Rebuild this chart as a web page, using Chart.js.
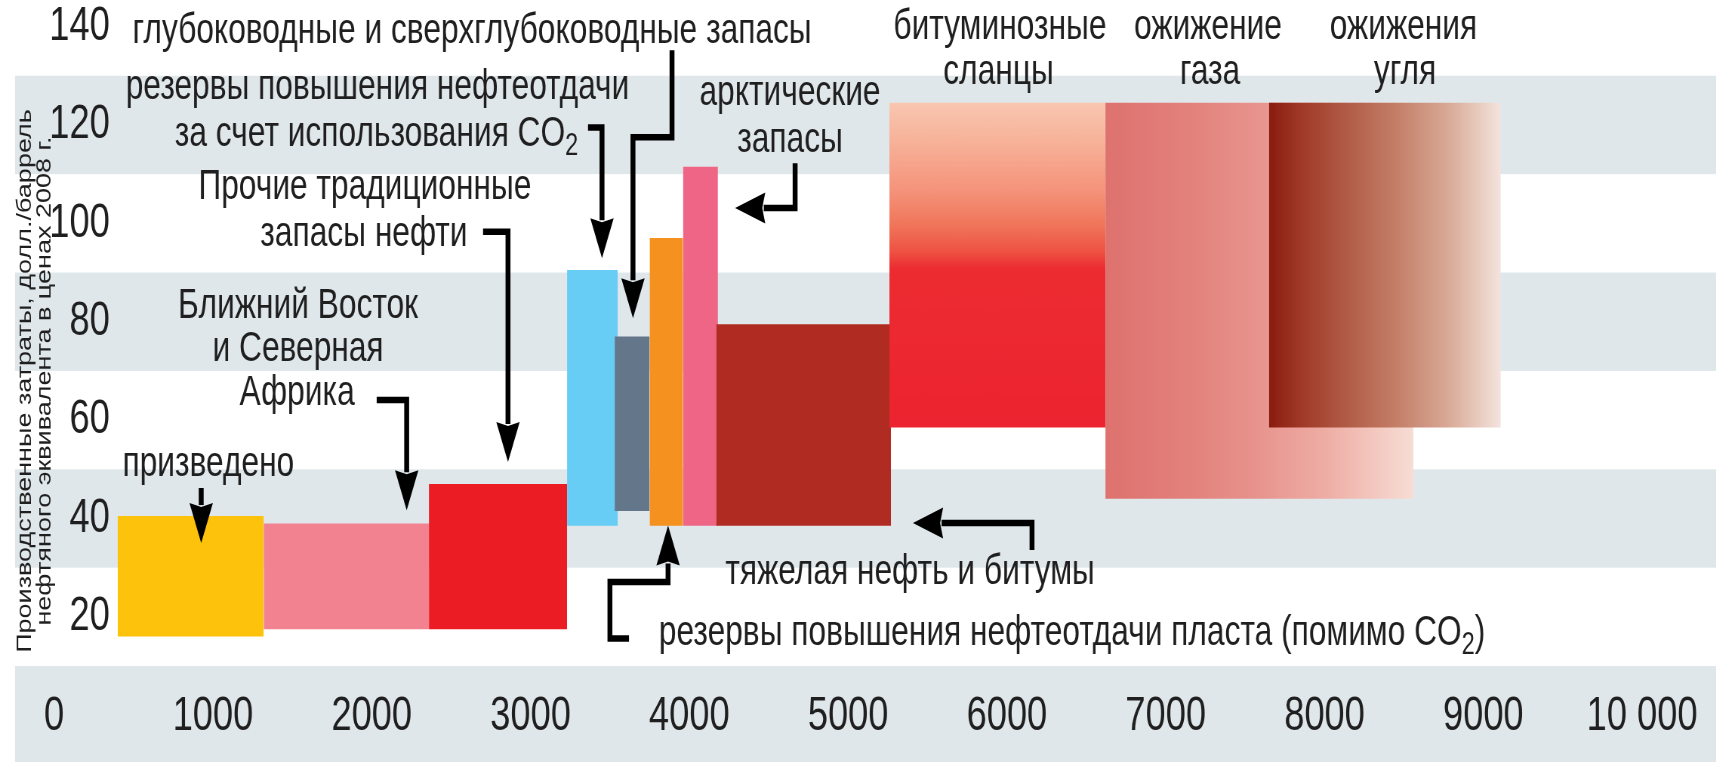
<!DOCTYPE html>
<html lang="ru">
<head>
<meta charset="utf-8">
<title>Производственные затраты на нефть</title>
<script src="https://cdn.jsdelivr.net/npm/chart.js@4.4.1/dist/chart.umd.min.js"></script>
<style>
  html, body { margin: 0; padding: 0; background: #fff; overflow: hidden; }
  #stage { position: absolute; left: 0; top: 0; transform-origin: 0 0; }
  #stage canvas { display: block; }
</style>
</head>
<body>
<div id="stage"><canvas id="chart"></canvas></div>
<script>
// Supply blocks: cumulative volume (x) against production cost (y)
const categories = [
  'призведено',
  'Ближний Восток и Северная Африка',
  'Прочие традиционные запасы нефти',
  'резервы повышения нефтеотдачи за счет использования CO₂',
  'глубоководные и сверхглубоководные запасы',
  'резервы повышения нефтеотдачи пласта (помимо CO₂)',
  'арктические запасы',
  'тяжелая нефть и битумы',
  'битуминозные сланцы',
  'ожижение газа',
  'ожижения угля'
];
const volumeFrom = [400, 1320, 2360, 3230, 3530, 3750, 3960, 4170, 5260, 6620, 7650];
const volumeTo   = [1320, 2360, 3230, 3550, 3750, 3960, 4180, 5270, 6620, 8560, 9110];
const costLow    = [16, 17.5, 17.5, 38.5, 41.5, 38.5, 38.5, 38.5, 58.5, 44, 58.5];
const costHigh   = [40.5, 39, 47, 90.5, 77, 97, 111.5, 79.5, 124.5, 124.5, 124.5];

const xTickValues = [0, 1000, 2000, 3000, 4000, 5000, 6000, 7000, 8000, 9000, 10000];
const xTickLabels = ['0', '1000', '2000', '3000', '4000', '5000', '6000', '7000', '8000', '9000', '10 000'];
const yTickValues = [20, 40, 60, 80, 100, 120, 140];
const shadedBands = [[-10, 10], [30, 50], [70, 90], [110, 130]];

// Fill styles
const solidFill = ['#fcc20c', '#f2828f', '#ec1c24', '#67cdf4', '#64768a', '#f5911f', '#ef6586', '#b02b21', null, null, null];
const gradientFill = {
  8:  { dir: 'v', stops: [[0, '#f9c6b0'], [0.12, '#f7b299'], [0.27, '#f4937a'], [0.38, '#f07459'], [0.46, '#ee5143'], [0.51, '#ec2c31'], [1, '#ec2330']] },
  9:  { dir: 'h', stops: [[0, '#de726e'], [0.3, '#e3837e'], [0.5, '#e8948e'], [0.72, '#eeaea5'], [1, '#f7ddd5']] },
  10: { dir: 'h', stops: [[0, '#8a1b0f'], [0.14, '#a03a27'], [0.35, '#b25e48'], [0.57, '#c6826c'], [0.78, '#d9ab98'], [1, '#f4e4dd']] }
};

// Text and pointer annotations (data coordinates); "₂" is set as a lowered subscript
const captions = [
  { text: 'глубоководные и сверхглубоководные запасы', x: 2632, y: 139.1 },
  { text: 'резервы повышения нефтеотдачи', x: 2036, y: 127.6 },
  { text: 'за счет использования CO₂', x: 2030, y: 118.0 },
  { text: 'Прочие традиционные', x: 1957, y: 107.2 },
  { text: 'запасы нефти', x: 1951, y: 97.8 },
  { text: 'Ближний Восток', x: 1536, y: 83.2 },
  { text: 'и Северная', x: 1536, y: 74.3 },
  { text: 'Африка', x: 1530, y: 65.4 },
  { text: 'призведено', x: 971, y: 50.9 },
  { text: 'арктические', x: 4634, y: 126.5 },
  { text: 'запасы', x: 4634, y: 116.9 },
  { text: 'битуминозные', x: 5956, y: 139.9 },
  { text: 'сланцы', x: 5947, y: 130.7 },
  { text: 'ожижение', x: 7266, y: 139.9 },
  { text: 'газа', x: 7279, y: 130.7 },
  { text: 'ожижения', x: 8497, y: 139.9 },
  { text: 'угля', x: 8507, y: 130.7 },
  { text: 'тяжелая нефть и битумы', x: 5390, y: 29.1 },
  { text: 'резервы повышения нефтеотдачи пласта (помимо CO₂)', x: 6410, y: 16.7 }
];
const pointers = [
  [[926, 46.2], [926, 35.0]],
  [[2031, 64.1], [2220, 64.1], [2220, 41.7]],
  [[2701, 98.3], [2858, 98.3], [2858, 51.5]],
  [[3362, 119.5], [3450, 119.5], [3450, 92.9]],
  [[3891, 135.2], [3891, 117.5], [3645, 117.5], [3645, 80.7]],
  [[4666, 112.2], [4666, 103.1], [4288, 103.1]],
  [[6158, 33.6], [6158, 39.1], [5408, 39.1]],
  [[3620, 15.6], [3500, 15.6], [3500, 27.1], [3866, 27.1], [3866, 38.6]]
];

// Page geometry: the figure uses a narrow lettering, so the canvas is drawn wide and squeezed
const SQUEEZE = 0.755;
const VIEW_W = 1716, VIEW_H = 762;
const CANVAS_W = Math.round(VIEW_W / SQUEEZE);
const AXIS_LEFT = 15 / SQUEEZE;
const Y_AXIS_WIDTH = (112 - 15) / SQUEEZE;
const INK = '#1f1f1f';
const FONT = '"Liberation Sans", Arial, Helvetica, sans-serif';
const NOTE_FONT = '42px ' + FONT;
const SUB_FONT = '31px ' + FONT;

const stage = document.getElementById('stage');
const canvas = document.getElementById('chart');
stage.style.width = CANVAS_W + 'px';
stage.style.height = VIEW_H + 'px';
stage.style.transform = 'scaleX(' + SQUEEZE + ')';
canvas.width = CANVAS_W;
canvas.height = VIEW_H;
canvas.style.width = CANVAS_W + 'px';
canvas.style.height = VIEW_H + 'px';

Chart.defaults.font.family = FONT;
Chart.defaults.color = INK;

function fillFor(i) {
  const g = gradientFill[i];
  if (!g) return solidFill[i];
  return (ctx) => {
    const chart = ctx.chart;
    if (!chart.chartArea) return g.stops[0][1];
    const xs = chart.scales.x, ys = chart.scales.y;
    const grad = g.dir === 'v'
      ? chart.ctx.createLinearGradient(0, ys.getPixelForValue(costHigh[i]), 0, ys.getPixelForValue(costLow[i]))
      : chart.ctx.createLinearGradient(xs.getPixelForValue(volumeFrom[i]), 0, xs.getPixelForValue(volumeTo[i]), 0);
    g.stops.forEach(([o, c]) => grad.addColorStop(o, c));
    return grad;
  };
}

const datasets = categories.map((name, i) => ({
  label: name,
  data: [{ x: volumeFrom[i], y: costHigh[i] }, { x: volumeTo[i], y: costHigh[i] }],
  fill: { value: costLow[i] },
  backgroundColor: fillFor(i),
  borderColor: 'rgba(0,0,0,0)',
  borderWidth: 0,
  pointRadius: 0,
  pointHoverRadius: 0,
  tension: 0,
  order: -i
}));

const bandPlugin = {
  id: 'bands',
  beforeDraw(chart) {
    const { ctx } = chart;
    const ys = chart.scales.y;
    ctx.save();
    ctx.fillStyle = '#e0e7eb';
    shadedBands.forEach(([lo, hi]) => {
      const top = ys.getPixelForValue(hi);
      const bottom = ys.getPixelForValue(lo);
      ctx.fillRect(ys.left, top, chart.width - ys.left, bottom - top);
    });
    ctx.restore();
  }
};

// Writes a caption centred on (cx, cy), lowering any "₂" as a smaller subscript digit
function drawCaption(ctx, text, cx, cy) {
  const pieces = text.split(/(₂)/).filter(s => s.length);
  const runs = pieces.map(s => s === '₂' ? { s: '2', sub: true } : { s, sub: false });
  let total = 0;
  runs.forEach(r => { ctx.font = r.sub ? SUB_FONT : NOTE_FONT; r.w = ctx.measureText(r.s).width; total += r.w; });
  let x = cx - total / 2;
  runs.forEach(r => {
    ctx.font = r.sub ? SUB_FONT : NOTE_FONT;
    ctx.fillText(r.s, x, r.sub ? cy + 12 : cy);
    x += r.w;
  });
}

const notePlugin = {
  id: 'notes',
  afterDatasetsDraw(chart) {
    const { ctx } = chart;
    const xs = chart.scales.x, ys = chart.scales.y;
    ctx.save();
    ctx.fillStyle = INK;
    ctx.textAlign = 'left';
    ctx.textBaseline = 'middle';
    captions.forEach(c => drawCaption(ctx, c.text, xs.getPixelForValue(c.x), ys.getPixelForValue(c.y)));

    const HEAD_LEN = 40, HEAD_HALF = 15.5;
    ctx.strokeStyle = '#000';
    ctx.fillStyle = '#000';
    ctx.lineWidth = 6.5;
    ctx.lineJoin = 'miter';
    ctx.lineCap = 'butt';
    pointers.forEach(path => {
      const pts = path.map(([x, y]) => [xs.getPixelForValue(x), ys.getPixelForValue(y)]);
      const n = pts.length;
      const [tx, ty] = pts[n - 1];
      const [px, py] = pts[n - 2];
      const len = Math.hypot(tx - px, ty - py);
      const dx = (tx - px) / len, dy = (ty - py) / len;
      const bx = tx - dx * HEAD_LEN, by = ty - dy * HEAD_LEN;
      ctx.beginPath();
      ctx.moveTo(pts[0][0], pts[0][1]);
      for (let k = 1; k < n - 1; k++) ctx.lineTo(pts[k][0], pts[k][1]);
      ctx.lineTo(bx + dx * 2, by + dy * 2);
      ctx.stroke();
      ctx.beginPath();
      ctx.moveTo(tx, ty);
      ctx.lineTo(bx - dy * HEAD_HALF, by + dx * HEAD_HALF);
      ctx.lineTo(bx + dx * 4, by + dy * 4);
      ctx.lineTo(bx + dy * HEAD_HALF, by - dx * HEAD_HALF);
      ctx.closePath();
      ctx.fill();
    });
    ctx.restore();
  }
};

new Chart(canvas, {
  type: 'line',
  data: { datasets },
  options: {
    responsive: false,
    animation: false,
    events: [],
    layout: { padding: { left: AXIS_LEFT, right: 0, top: 0, bottom: 0 } },
    plugins: { legend: { display: false }, tooltip: { enabled: false }, title: { display: false } },
    scales: {
      x: {
        type: 'linear',
        min: 364.4,
        max: 10466,
        position: { y: 10 },
        grid: { display: false, drawTicks: false },
        border: { display: false },
        afterBuildTicks: (s) => { s.ticks = xTickValues.map(v => ({ value: v })); },
        afterFit: (s) => { s.paddingLeft = 0; s.paddingRight = 0; },
        ticks: {
          autoSkip: false,
          maxRotation: 0,
          padding: 27,
          color: INK,
          font: { size: 48, lineHeight: 1 },
          callback: (v, i) => xTickLabels[i]
        }
      },
      y: {
        type: 'linear',
        min: -9.5,
        max: 145.4,
        position: 'left',
        grid: { display: false, drawTicks: false },
        border: { display: false },
        afterBuildTicks: (s) => { s.ticks = yTickValues.map(v => ({ value: v })); },
        afterFit: (s) => { s.width = Y_AXIS_WIDTH; s.paddingTop = 0; s.paddingBottom = 0; },
        ticks: {
          autoSkip: false,
          padding: 3,
          color: INK,
          font: { size: 48, lineHeight: 1 }
        },
        title: {
          display: true,
          text: ['Производственные затраты, долл./баррель', 'нефтяного эквивалента в ценах 2008 г.'],
          color: INK,
          padding: { top: 0, bottom: 0 },
          font: { size: 27, lineHeight: 0.98 }
        }
      }
    }
  },
  plugins: [bandPlugin, notePlugin]
});
</script>
</body>
</html>
